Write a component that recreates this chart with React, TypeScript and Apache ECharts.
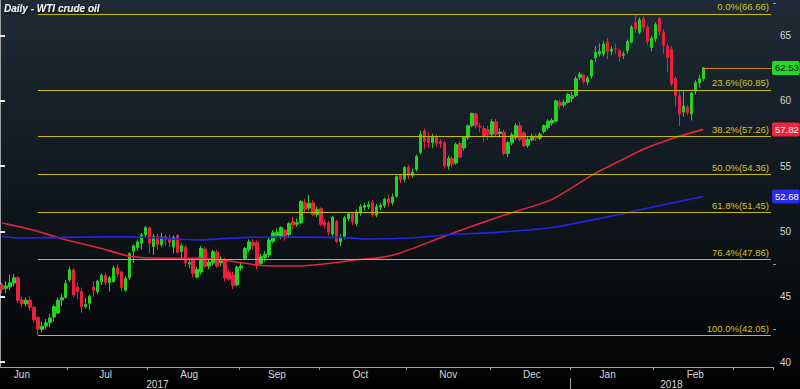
import React, { useEffect, useRef } from 'react';
import * as echarts from 'echarts';

const TITLE = 'Daily - WTI crude oil';
const FIRST_DAY = '2017-06-08';
const HOLIDAYS = ['2017-07-04', '2017-09-04', '2017-11-23', '2017-12-25', '2018-01-01', '2018-01-15'];
const CATEGORY_COUNT = 194;
const MONTHS = ['Jan', 'Feb', 'Mar', 'Apr', 'May', 'Jun', 'Jul', 'Aug', 'Sep', 'Oct', 'Nov', 'Dec'];

// [open, close, low, high] per trading day, from 2017-06-08 to 2018-02-19
const candles: [number, number, number, number][] = [
  [45.9, 45.55, 45.25, 46.1], [45.65, 45.83, 45.26, 46.2], [45.75, 46.08, 45.5, 46.7], [46.05, 46.46, 45.8, 46.75],
  [46.45, 44.73, 44.5, 46.6], [44.75, 44.46, 44.2, 45.0], [44.45, 44.74, 44.25, 44.95], [44.75, 44.2, 43.9, 45.05],
  [44.2, 43.23, 43.05, 44.3], [43.4, 42.53, 42.05, 43.5], [42.5, 42.74, 42.25, 43.1], [42.75, 43.01, 42.5, 43.3],
  [43.0, 43.38, 42.65, 43.7], [43.45, 44.24, 43.1, 44.4], [43.75, 44.74, 43.7, 44.95], [44.75, 44.93, 44.3, 45.25],
  [44.95, 46.04, 44.85, 46.3],
  // Jul
  [46.28, 47.07, 46.1, 47.32], [47.05, 45.13, 44.96, 47.2], [45.75, 45.4, 44.82, 46.1], [45.4, 44.23, 43.77, 45.7],
  [44.25, 44.4, 44.08, 44.9], [44.5, 45.04, 44.0, 45.15], [45.75, 45.49, 45.0, 46.2], [45.4, 46.2, 45.2, 46.3],
  [46.15, 46.65, 45.9, 46.8], [46.65, 46.1, 45.9, 46.85], [46.1, 46.45, 45.4, 46.6], [46.15, 47.2, 46.1, 47.4],
  [47.2, 46.75, 46.5, 47.5], [46.9, 45.7, 45.4, 47.0], [45.5, 46.4, 45.4, 46.6], [46.45, 48.3, 46.3, 48.4],
  [48.5, 48.9, 47.6, 49.0], [48.75, 49.2, 48.5, 49.4], [49.1, 49.75, 48.6, 49.9], [49.75, 50.3, 49.5, 50.43],
  // Aug
  [50.3, 49.1, 48.3, 50.35], [48.85, 49.6, 48.2, 49.8], [49.6, 49.0, 48.6, 49.85], [49.0, 49.58, 48.8, 49.9],
  [49.6, 49.39, 48.9, 49.75], [49.4, 49.17, 48.8, 49.75], [48.8, 49.56, 48.3, 49.7], [49.7, 48.4, 48.3, 49.8],
  [48.46, 48.9, 47.95, 49.1], [48.8, 47.6, 47.3, 48.95], [47.5, 47.6, 47.2, 47.9], [47.8, 46.8, 46.5, 47.95],
  [46.5, 47.1, 46.4, 47.3], [46.9, 48.7, 46.7, 48.9], [48.65, 47.35, 47.2, 48.8], [47.35, 47.65, 47.1, 47.9],
  [47.6, 48.45, 47.4, 48.6], [48.4, 47.35, 47.2, 48.6], [47.6, 47.87, 47.35, 48.1], [47.8, 46.45, 46.2, 48.0],
  [46.9, 46.35, 46.2, 47.1], [46.65, 45.85, 45.6, 46.9], [45.9, 47.25, 45.8, 47.4],
  // Sep
  [47.2, 47.35, 47.0, 47.6], [47.95, 48.7, 47.8, 48.8], [48.6, 49.2, 48.4, 49.4], [49.15, 48.95, 48.6, 49.4],
  [49.15, 47.4, 47.1, 49.3], [47.55, 48.07, 47.4, 48.3], [48.0, 48.25, 47.7, 48.5], [48.2, 49.35, 48.0, 49.5],
  [49.25, 49.9, 49.1, 50.1], [49.7, 49.95, 49.5, 50.25], [49.6, 50.3, 49.4, 50.4], [50.1, 49.5, 49.3, 50.2],
  [49.75, 50.6, 49.5, 50.7], [50.75, 50.5, 50.2, 51.1], [50.55, 50.66, 50.35, 51.0], [50.65, 52.3, 50.6, 52.4],
  [52.2, 51.7, 51.4, 52.5], [51.8, 52.15, 51.6, 52.8], [52.2, 51.3, 51.2, 52.4], [51.3, 51.7, 51.1, 51.9],
  // Oct
  [51.75, 50.55, 50.4, 51.85], [50.7, 50.45, 50.2, 50.95], [50.65, 49.95, 49.7, 50.8], [49.8, 51.1, 49.6, 51.2],
  [50.75, 49.25, 49.1, 50.9], [49.2, 49.55, 48.9, 49.8], [49.6, 51.05, 49.4, 51.2], [51.0, 51.35, 50.8, 51.5],
  [51.4, 50.75, 50.5, 51.5], [50.6, 51.5, 50.4, 51.7], [51.4, 51.9, 51.2, 52.1], [51.85, 52.0, 51.6, 52.2],
  [51.9, 52.05, 51.7, 52.3], [52.2, 51.3, 51.1, 52.4], [51.25, 51.9, 51.1, 52.1], [51.85, 52.0, 51.6, 52.2],
  [52.0, 52.45, 51.8, 52.6], [52.5, 52.2, 51.9, 52.8], [52.2, 52.65, 52.0, 52.9], [52.7, 54.2, 52.6, 54.3],
  [54.3, 53.97, 53.7, 54.4], [54.0, 54.9, 53.8, 55.0],
  // Nov
  [54.9, 54.3, 54.0, 55.1], [54.3, 54.55, 54.1, 54.8], [54.75, 55.75, 54.6, 55.9], [56.05, 57.45, 55.9, 57.7],
  [57.7, 56.9, 56.3, 57.9], [57.2, 56.8, 56.4, 57.6], [56.8, 57.3, 56.4, 57.5], [57.2, 56.75, 56.5, 57.4],
  [56.9, 56.7, 56.4, 57.1], [56.8, 55.05, 54.8, 56.9], [55.0, 55.6, 54.75, 55.8], [55.6, 55.15, 54.9, 55.8],
  [55.25, 56.65, 55.1, 56.8], [56.75, 55.7, 55.6, 56.9], [56.4, 57.2, 56.2, 57.3], [57.2, 58.1, 57.0, 58.2],
  [58.1, 59.05, 58.0, 59.1], [59.0, 58.1, 57.9, 59.1], [58.05, 58.0, 57.6, 58.3], [57.9, 57.3, 56.8, 58.1],
  [57.8, 57.4, 57.0, 58.1],
  // Dec
  [57.45, 58.4, 57.2, 58.6], [58.4, 57.45, 57.3, 58.6], [57.5, 57.62, 57.2, 57.9], [57.6, 55.98, 55.8, 57.8],
  [55.98, 56.8, 55.7, 56.95], [56.8, 57.4, 56.6, 57.6], [57.2, 58.1, 57.0, 58.3], [58.1, 57.05, 56.9, 58.4],
  [57.55, 56.55, 56.5, 57.7], [56.6, 57.05, 56.4, 57.3], [57.0, 57.3, 56.9, 57.5], [57.3, 57.15, 56.9, 57.5],
  [57.15, 57.45, 57.0, 57.6], [57.65, 58.1, 57.5, 58.2], [57.95, 58.45, 57.8, 58.6], [58.3, 58.5, 58.1, 58.7],
  [58.45, 60.0, 58.4, 60.1], [59.9, 59.65, 59.4, 60.1], [59.7, 59.9, 59.5, 60.1], [59.9, 60.5, 59.8, 60.6],
  // Jan
  [60.2, 60.4, 59.9, 60.7], [60.4, 61.7, 60.3, 61.9], [61.8, 62.05, 61.6, 62.2], [61.97, 61.45, 61.3, 62.1],
  [61.45, 61.75, 61.2, 61.9], [61.9, 63.1, 61.7, 63.2], [63.3, 63.7, 63.0, 64.2], [63.6, 63.8, 63.4, 64.4],
  [63.6, 64.36, 63.4, 64.6], [64.5, 63.77, 63.2, 64.8], [63.8, 63.97, 63.5, 64.2], [64.0, 63.95, 63.6, 64.4],
  [63.85, 63.4, 63.0, 64.0], [63.5, 63.57, 63.2, 63.8], [63.85, 64.55, 63.6, 64.7], [64.5, 65.66, 64.4, 65.8],
  [66.0, 65.5, 65.2, 66.66], [65.26, 66.2, 65.1, 66.4], [66.3, 65.65, 65.3, 66.5], [65.65, 64.55, 64.3, 65.8],
  [64.1, 64.8, 63.8, 65.0],
  // Feb
  [64.75, 65.85, 64.5, 66.0], [66.3, 65.3, 65.0, 66.45], [65.25, 64.25, 63.6, 65.5], [64.2, 63.35, 62.2, 64.4],
  [63.95, 61.3, 61.1, 64.2], [61.7, 60.4, 59.6, 61.9], [60.4, 59.0, 58.07, 60.85], [59.15, 59.6, 58.8, 60.85],
  [59.5, 59.1, 58.9, 59.7], [59.0, 60.6, 58.5, 60.7], [60.75, 61.4, 60.5, 61.6], [61.4, 61.7, 61.0, 62.0],
  [61.7, 62.53, 61.5, 62.6],
];

const RED_MA: [string, number][] = [
  ['2017-06-08', 50.65], ['2017-06-20', 50.1], ['2017-06-29', 49.45], ['2017-07-14', 48.7], ['2017-07-25', 48.1],
  ['2017-08-04', 47.95], ['2017-08-18', 47.95], ['2017-08-30', 47.7], ['2017-09-11', 47.4], ['2017-09-25', 47.36],
  ['2017-10-04', 47.55], ['2017-10-12', 47.8], ['2017-10-23', 48.0], ['2017-10-30', 48.36], ['2017-11-15', 49.75],
  ['2017-12-05', 51.15], ['2017-12-22', 52.44], ['2018-01-09', 54.3], ['2018-01-19', 55.4], ['2018-01-29', 56.3],
  ['2018-02-07', 57.1], ['2018-02-19', 57.82],
];
const BLUE_MA: [string, number][] = [
  ['2017-06-08', 49.6], ['2017-06-15', 49.5], ['2017-07-07', 49.57], ['2017-07-25', 49.6], ['2017-08-11', 49.4],
  ['2017-08-18', 49.36], ['2017-08-25', 49.44], ['2017-09-06', 49.55], ['2017-09-25', 49.57], ['2017-10-09', 49.55],
  ['2017-10-18', 49.42], ['2017-11-01', 49.5], ['2017-11-15', 49.75], ['2017-12-05', 49.95], ['2017-12-22', 50.3],
  ['2018-01-11', 51.0], ['2018-01-31', 51.85], ['2018-02-19', 52.68],
];

const FIB_PCT = ['0.0%', '23.6%', '38.2%', '50.0%', '61.8%', '76.4%', '100.0%'];
const FIB_VALUES = [66.66, 60.85, 57.26, 54.36, 51.45, 47.86, 42.05];
const FIB_START = '2017-06-21';
const LAST_PRICE = 62.53;
const RED_LAST = 57.82;
const BLUE_LAST = 52.68;
const Y_LABELS = [40, 45, 50, 55, 60, 65];
const Y_MINOR = [42.5, 47.5, 52.5, 57.5, 62.5, 67.5];
const YEAR_LABEL_AT = ['2017-08-03', '2018-02-07'];
const YEAR_START = '2018-01-02';

function tradingDays(): string[] {
  const out: string[] = [];
  const d = new Date(FIRST_DAY + 'T12:00:00Z');
  while (out.length < CATEGORY_COUNT) {
    const wd = d.getUTCDay();
    const s = d.toISOString().slice(0, 10);
    if (wd !== 0 && wd !== 6 && !HOLIDAYS.includes(s)) out.push(s);
    d.setUTCDate(d.getUTCDate() + 1);
  }
  return out;
}

const dates = tradingDays();
const lastCandleDate = dates[candles.length - 1];
const lastCat = dates[dates.length - 1];
const monthOf = (s: string) => Number(s.slice(5, 7)) - 1;
const dayOf = (s: string) => Number(s.slice(8, 10));

const FONT = 'Liberation Sans, Arial, sans-serif';

export default function App() {
  const ref = useRef<HTMLDivElement>(null);
  useEffect(() => {
    if (!ref.current) return;
    const chart = echarts.init(ref.current, undefined, { renderer: 'svg' });

    const monthLabel = (i: number) => dayOf(dates[i]) >= 15 && (i === 0 || dayOf(dates[i - 1]) < 15);
    const monthTick = (i: number) => i > 0 && monthOf(dates[i]) !== monthOf(dates[i - 1]);

    const tag = (value: number, bg: string, fg: string) => ({
      show: true,
      position: 'end',
      distance: 1,
      formatter: value.toFixed(2),
      backgroundColor: bg,
      color: fg,
      fontSize: 9.5,
      fontFamily: FONT,
      padding: [2, 1, 2, 3],
      borderRadius: 2,
    });
    const hiddenLine = { color: 'rgba(0,0,0,0)', width: 0 };

    chart.setOption({
      animation: false,
      backgroundColor: {
        type: 'linear', x: 0, y: 0, x2: 0, y2: 1,
        colorStops: [
          { offset: 0, color: '#1f2b36' },
          { offset: 0.5, color: '#10171d' },
          { offset: 0.94, color: '#040506' },
          { offset: 1, color: '#000000' },
        ],
      },
      title: {
        text: TITLE, left: 4, top: 3, padding: 0,
        textStyle: {
          color: '#eeeeee', fontSize: 10, fontStyle: 'italic', fontWeight: 'bold', fontFamily: FONT,
          textShadowColor: '#000', textShadowBlur: 2, textShadowOffsetX: 1, textShadowOffsetY: 1,
        },
      },
      grid: { left: 0, right: 27, top: 0, bottom: 22 },
      xAxis: [
        {
          type: 'category', data: dates, boundaryGap: true,
          axisLine: { lineStyle: { color: '#a0a0a0' } },
          axisTick: { show: true, interval: (i: number) => monthTick(i), length: 3, lineStyle: { color: '#a0a0a0' } },
          axisLabel: {
            interval: (i: number) => monthLabel(i), formatter: (v: string) => MONTHS[monthOf(v)],
            color: '#d8d8d8', fontSize: 10, fontFamily: FONT, margin: 2,
          },
          splitLine: { show: false },
        },
        {
          type: 'value', min: 0, max: CATEGORY_COUNT, position: 'bottom', offset: 11,
          axisLine: { show: false },
          axisTick: { show: true, customValues: [dates.indexOf(YEAR_START)], length: 11, lineStyle: { color: '#a0a0a0' } },
          axisLabel: {
            customValues: YEAR_LABEL_AT.map((d) => dates.indexOf(d) + 0.5),
            formatter: (v: number) => dates[Math.floor(v)].slice(0, 4),
            color: '#d8d8d8', fontSize: 10, fontFamily: FONT, margin: 1,
          },
          splitLine: { show: false },
        },
      ],
      yAxis: [
        {
          type: 'value', position: 'right', min: 39.62, max: 67.73,
          axisLine: { show: true, lineStyle: { color: '#a0a0a0' } },
          axisTick: { show: true, customValues: Y_LABELS, length: 5, lineStyle: { color: '#e8e8e8', width: 2 } },
          axisLabel: { customValues: Y_LABELS, color: '#d8d8d8', fontSize: 10, fontFamily: FONT, margin: 7 },
          splitLine: { show: false },
        },
        {
          type: 'value', position: 'right', min: 39.62, max: 67.73,
          axisLine: { show: false },
          axisTick: { show: true, customValues: Y_MINOR, length: 3, lineStyle: { color: '#9a9a9a' } },
          axisLabel: { show: false },
          splitLine: { show: false },
        },
      ],
      series: [
        {
          type: 'candlestick',
          data: candles.map((c) => [c[0], c[1], c[2], c[3]]),
          barWidth: 3,
          clip: false,
          itemStyle: { color: '#22d322', color0: '#ee1f3d', borderColor: '#22d322', borderColor0: '#ee1f3d', borderWidth: 1 },
          markLine: {
            symbol: ['none', 'none'], silent: true, animation: false,
            data: [
              ...FIB_VALUES.map((v, i) => [
                {
                  coord: [FIB_START, v],
                  lineStyle: { color: '#c4bc08', width: 1, type: 'solid' },
                  label: {
                    show: true, position: 'insideEndTop', distance: 2,
                    formatter: `${FIB_PCT[i]}(${v.toFixed(2)})`,
                    color: '#cfc41c', fontSize: 9.5, fontFamily: FONT,
                  },
                },
                { coord: [lastCat, v] },
              ]),
              [
                {
                  coord: [lastCandleDate, LAST_PRICE],
                  lineStyle: { color: '#d5831a', width: 1, type: 'solid' },
                  label: tag(LAST_PRICE, '#25d925', '#0a0a0a'),
                },
                { coord: [lastCat, LAST_PRICE] },
              ],
            ],
          },
        },
        {
          type: 'line', data: RED_MA, symbol: 'none', smooth: 0.2, clip: false,
          lineStyle: { color: '#e4253f', width: 1.6 },
          markLine: {
            symbol: ['none', 'none'], silent: true, animation: false,
            data: [[
              { coord: [lastCandleDate, RED_LAST], lineStyle: hiddenLine, label: tag(RED_LAST, '#f0243c', '#ffffff') },
              { coord: [lastCat, RED_LAST] },
            ]],
          },
        },
        {
          type: 'line', data: BLUE_MA, symbol: 'none', smooth: 0.2, clip: false,
          lineStyle: { color: '#2424e6', width: 1.6 },
          markLine: {
            symbol: ['none', 'none'], silent: true, animation: false,
            data: [[
              { coord: [lastCandleDate, BLUE_LAST], lineStyle: hiddenLine, label: tag(BLUE_LAST, '#2b2bf0', '#ffffff') },
              { coord: [lastCat, BLUE_LAST] },
            ]],
          },
        },
      ],
    });
    return () => chart.dispose();
  }, []);

  return <div ref={ref} style={{ position: 'absolute', left: 0, top: 0, width: 800, height: 389 }} />;
}
